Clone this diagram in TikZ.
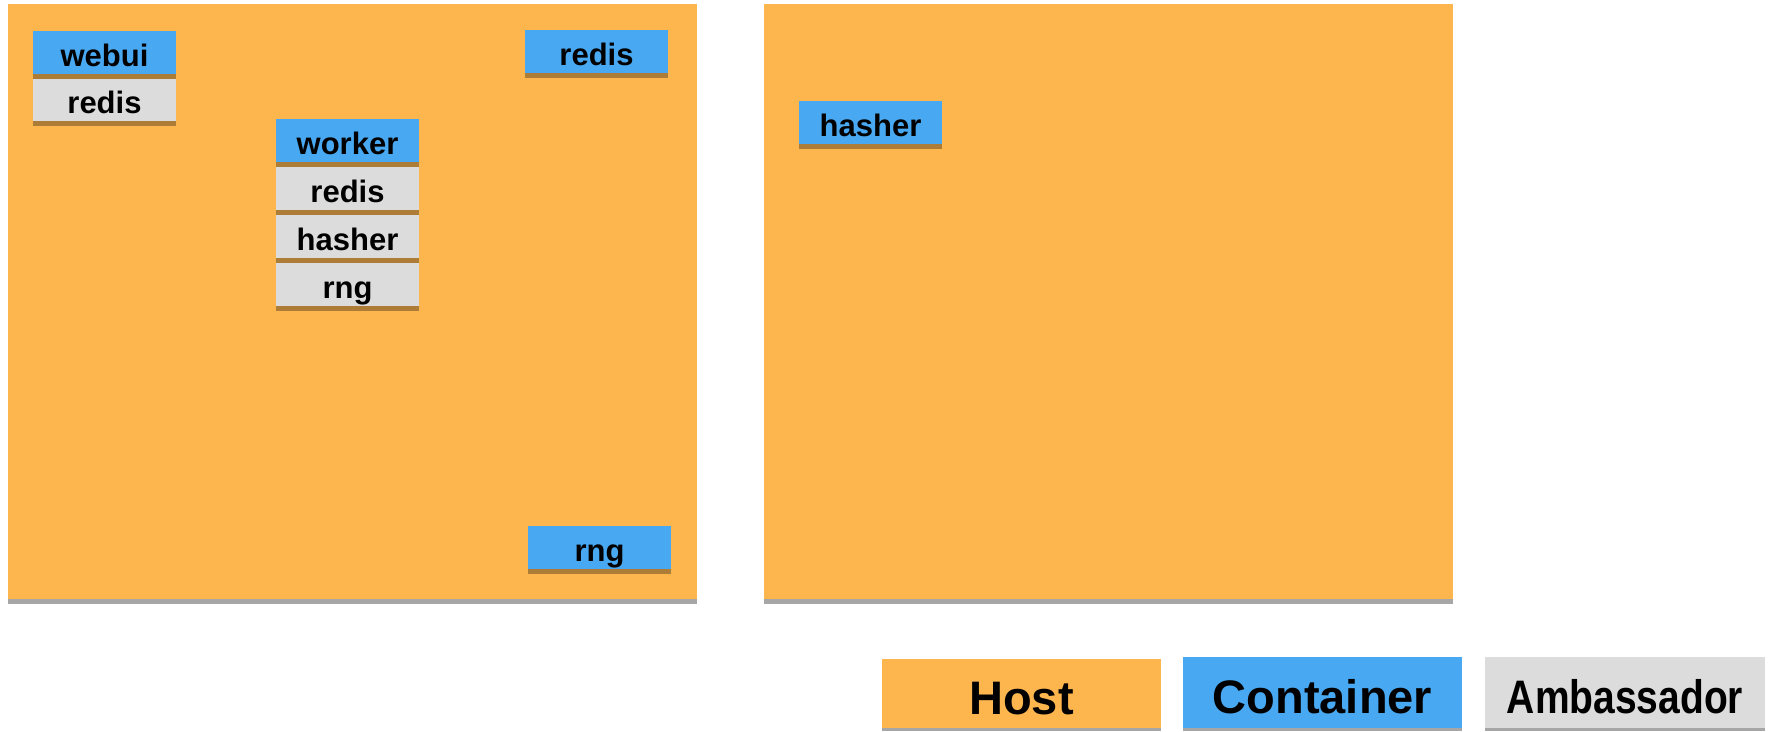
\documentclass[tikz,border=0pt]{standalone}
\usepackage{fontspec}
\setmainfont{Liberation Sans}
\usepackage{tikz}
\usetikzlibrary{positioning}

\definecolor{hostorange}{HTML}{FDB54E}
\definecolor{ctrblue}{HTML}{48A8F1}
\definecolor{ambgray}{HTML}{DCDCDC}
\definecolor{stripbrown}{HTML}{AD7C37}
\definecolor{stripgray}{HTML}{A6A6A6}

\tikzset{
    box/.style={inner sep=0pt, outer sep=0pt, minimum width=143pt, minimum height=43pt,
        font=\fontsize{31}{31}\selectfont\bfseries, text height=28.5pt, text depth=1pt},
    ctr/.style={box, fill=ctrblue},
    amb/.style={box, fill=ambgray},
    host/.style={inner sep=0pt, outer sep=0pt, fill=hostorange, minimum width=689pt, minimum height=595pt, anchor=north west},
    legend/.style={inner sep=0pt, outer sep=0pt, minimum width=279pt, minimum height=70pt, anchor=north west,
        font=\fontsize{47}{47}\selectfont\bfseries, text height=41pt, text depth=0pt}
}

\begin{document}
\begin{tikzpicture}[x=1pt, y=-1pt]
    \useasboundingbox (0,0) rectangle (1769,731);
    \node[host] (host1) at (8,4) {}; \node[host] (host2) at (764,4) {};
    \foreach \h in {host1,host2} \fill[stripgray] (\h.south west) rectangle ([yshift=-5pt]\h.south east);

    % first host
    \node[ctr, anchor=north west] (webui) at (33,31) {webui};
    \node[amb, below=4pt of webui] (webuiredis) {redis};
    \node[ctr, anchor=north west] (redis) at (525,30) {redis};
    \node[ctr, anchor=north west] (worker) at (276,119) {worker};
    \node[amb, below=5pt of worker] (workerredis) {redis};
    \node[amb, below=5pt of workerredis] (workerhasher) {hasher};
    \node[amb, below=5pt of workerhasher] (workerrng) {rng};
    \node[ctr, anchor=north west] (rng) at (528,526) {rng};

    % second host
    \node[ctr, anchor=north west] (hasher) at (799,101) {hasher};

    \foreach \n in {webui,webuiredis,redis,worker,workerredis,workerhasher,workerrng,rng,hasher}
        \fill[stripbrown] (\n.south west) rectangle ([yshift=-4.5pt]\n.south east);

    % legend
    \node[legend, fill=hostorange, minimum height=69pt] (lhost) at (882,659) {Host};
    \node[legend, fill=ctrblue, minimum height=71pt] (lctr) at (1183,657) {Container};
    \node[legend, fill=ambgray, minimum height=71pt, minimum width=280pt] (lamb) at (1485,657) {\scalebox{0.83}[1]{Ambassador}};
    \foreach \n in {lhost,lctr,lamb} \fill[stripgray] (\n.south west) rectangle ([yshift=-3pt]\n.south east);
\end{tikzpicture}
\end{document}
